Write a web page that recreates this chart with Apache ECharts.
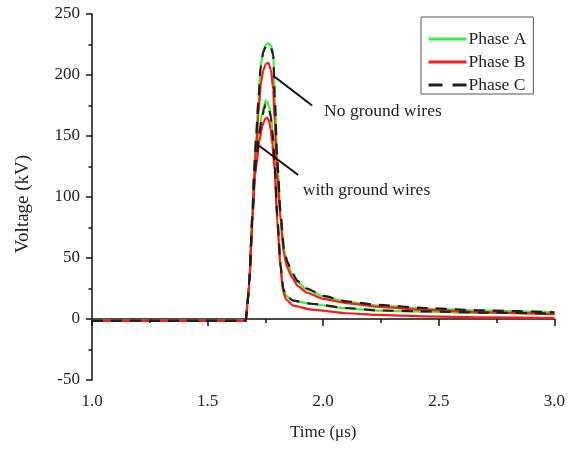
<!DOCTYPE html>
<html>
<head>
<meta charset="utf-8">
<script src="https://cdn.jsdelivr.net/npm/echarts@6/dist/echarts.min.js"></script>
<style>
html,body{margin:0;padding:0;background:#fff;}
#chart{width:568px;height:451px;}
</style>
</head>
<body>
<div id="chart"></div>
<script>
// ---- Data ----
var phaseNames = ['Phase A', 'Phase B', 'Phase C'];
var xTicks = [1.0, 1.5, 2.0, 2.5, 3.0];
var yTicks = [-50, 0, 50, 100, 150, 200, 250];

// Time (us), case without ground wires
var timeNoGround = [1.0, 1.665, 1.672, 1.68, 1.694, 1.70, 1.71, 1.72, 1.73, 1.741, 1.752, 1.763, 1.774, 1.784, 1.790, 1.801, 1.816, 1.830, 1.845, 1.865, 1.89, 1.93, 2.0, 2.1, 2.24, 2.44, 2.7, 3.0];
var phaseA_noGround = [-1.5, -1.5, 12, 30, 85, 118, 150, 180, 208, 220, 225, 226, 224, 219, 185, 131, 85, 57, 46, 37, 30, 24, 18.5, 14, 11, 8.5, 6.8, 5.5];
var phaseB_noGround = [-1.5, -1.5, 11, 28, 80, 110, 140, 168, 192, 204, 209, 210, 204, 188, 162, 120, 80, 53, 42, 34, 27, 21.5, 16.5, 13, 10, 7.5, 5.5, 4];
var phaseC_noGround = [-1.5, -1.5, 12, 30, 85, 118, 150, 180, 207, 219, 223.5, 224.5, 222.5, 216, 184, 131, 86, 58, 47, 38, 31, 25, 19, 14.5, 11.5, 9, 7, 5.5];

// Time (us), case with ground wires
var timeWithGround = [1.0, 1.665, 1.672, 1.68, 1.694, 1.705, 1.713, 1.723, 1.737, 1.744, 1.751, 1.758, 1.766, 1.773, 1.780, 1.790, 1.801, 1.816, 1.827, 1.840, 1.87, 1.95, 2.1, 2.24, 2.44, 2.7, 3.0];
var phaseA_withGround = [-1.5, -1.5, 12, 30, 85, 122, 137, 155, 169, 175, 179, 178, 174, 168, 156, 132, 85, 44, 25, 19, 15, 12.3, 8.7, 6.8, 6, 5, 4.5];
var phaseB_withGround = [-1.5, -1.5, 11, 28, 82, 118, 128, 145, 158, 162, 164.5, 165, 162, 155, 143, 122, 80, 40, 22, 16, 11, 7.7, 4.7, 3.3, 2.2, 1.4, 0.8];
var phaseC_withGround = [-1.5, -1.5, 12, 30, 85, 121, 135, 152, 166, 172, 176, 175.5, 172, 166, 154, 130, 85, 44, 25, 19, 15, 12.5, 9, 7, 6.2, 5.2, 4.6];

// Annotations (data coordinates)
var annoTexts = ['No ground wires', 'with ground wires'];
var annoLineFrom = [[1.787, 199], [1.723, 142]];
var annoLineTo = [[1.952, 175], [1.892, 118]];
var annoTextAt = [[2.004, 170.5], [1.912, 105]];

function pairs(t, v) { return t.map(function (x, i) { return [x, v[i]]; }); }

var FONT = '"Liberation Serif", "Times New Roman", serif';
var colA = '#3cf03c', colB = '#ff1a1a', colC = '#1e1e1e';

function mk(name, t, v, color, dashed) {
  return {
    name: name, type: 'line', data: pairs(t, v), symbol: 'none', showSymbol: false,
    smooth: 0.2, smoothMonotone: 'x',
    lineStyle: { color: color, width: 2.2, type: dashed ? [11, 8] : 'solid' },
    itemStyle: { color: color },
    z: dashed ? 4 : 3
  };
}

var chart = echarts.init(document.getElementById('chart'), null, { renderer: 'canvas' });
chart.setOption({
  animation: false,
  backgroundColor: '#fff',
  grid: { left: 92, right: 11, top: 14, bottom: 71, containLabel: false },
  legend: {
    data: [
      { name: phaseNames[0], lineStyle: { width: 3 } },
      { name: phaseNames[1], lineStyle: { width: 3 } },
      { name: phaseNames[2], lineStyle: { width: 3, type: [14, 10] } }
    ],
    orient: 'vertical', left: 421, top: 17,
    padding: [13, 7, 0, 6], itemGap: 5, itemWidth: 38, itemHeight: 14,
    borderColor: '#555', borderWidth: 1, backgroundColor: '#fff',
    itemStyle: { opacity: 0 },
    textStyle: { fontFamily: FONT, fontSize: 17.5, color: '#222', padding: [0, 0, 0, -3] }
  },
  xAxis: {
    type: 'value', min: 1.0, max: 3.0, interval: 0.5,
    name: 'Time (μs)', nameLocation: 'middle', nameGap: 44,
    nameTextStyle: { fontFamily: FONT, fontSize: 17, color: '#222' },
    axisLine: { show: true, lineStyle: { color: '#111', width: 1.5 } },
    axisTick: { show: true, inside: false, length: 7, lineStyle: { color: '#111', width: 1.5 } },
    minorTick: { show: true, splitNumber: 2, length: 4, lineStyle: { color: '#111', width: 1.5 } },
    splitLine: { show: false },
    axisLabel: { fontFamily: FONT, fontSize: 17, color: '#222', margin: 13,
      formatter: function (v) { return v.toFixed(1); } }
  },
  yAxis: {
    type: 'value', min: -50, max: 250, interval: 50,
    name: 'Voltage (kV)', nameLocation: 'middle', nameGap: 59, nameRotate: 90,
    nameTextStyle: { fontFamily: FONT, fontSize: 19, color: '#222', padding: [0, 14, 0, 0] },
    axisLine: { show: true, lineStyle: { color: '#111', width: 1.5 } },
    axisTick: { show: true, inside: false, length: 6, lineStyle: { color: '#111', width: 1.5 } },
    minorTick: { show: true, splitNumber: 2, length: 3.5, lineStyle: { color: '#111', width: 1.5 } },
    splitLine: { show: false },
    axisLabel: { fontFamily: FONT, fontSize: 17, color: '#222', margin: 12 }
  },
  series: [
    mk(phaseNames[0], timeNoGround, phaseA_noGround, colA, false),
    mk(phaseNames[0], timeWithGround, phaseA_withGround, colA, false),
    mk(phaseNames[1], timeNoGround, phaseB_noGround, colB, false),
    mk(phaseNames[1], timeWithGround, phaseB_withGround, colB, false),
    mk(phaseNames[2], timeNoGround, phaseC_noGround, colC, true),
    mk(phaseNames[2], timeWithGround, phaseC_withGround, colC, true)
  ]
});

var graphics = [];
for (var i = 0; i < annoTexts.length; i++) {
  var p1 = chart.convertToPixel({ gridIndex: 0 }, annoLineFrom[i]);
  var p2 = chart.convertToPixel({ gridIndex: 0 }, annoLineTo[i]);
  var pt = chart.convertToPixel({ gridIndex: 0 }, annoTextAt[i]);
  graphics.push({ type: 'line', shape: { x1: p1[0], y1: p1[1], x2: p2[0], y2: p2[1] },
    style: { stroke: '#111', lineWidth: 2 }, z: 10 });
  graphics.push({ type: 'text', x: pt[0], y: pt[1], z: 10,
    style: { text: annoTexts[i], font: '17.5px ' + FONT, fill: '#222', textAlign: 'left', textVerticalAlign: 'middle' } });
}
chart.setOption({ graphic: graphics });
</script>
</body>
</html>
